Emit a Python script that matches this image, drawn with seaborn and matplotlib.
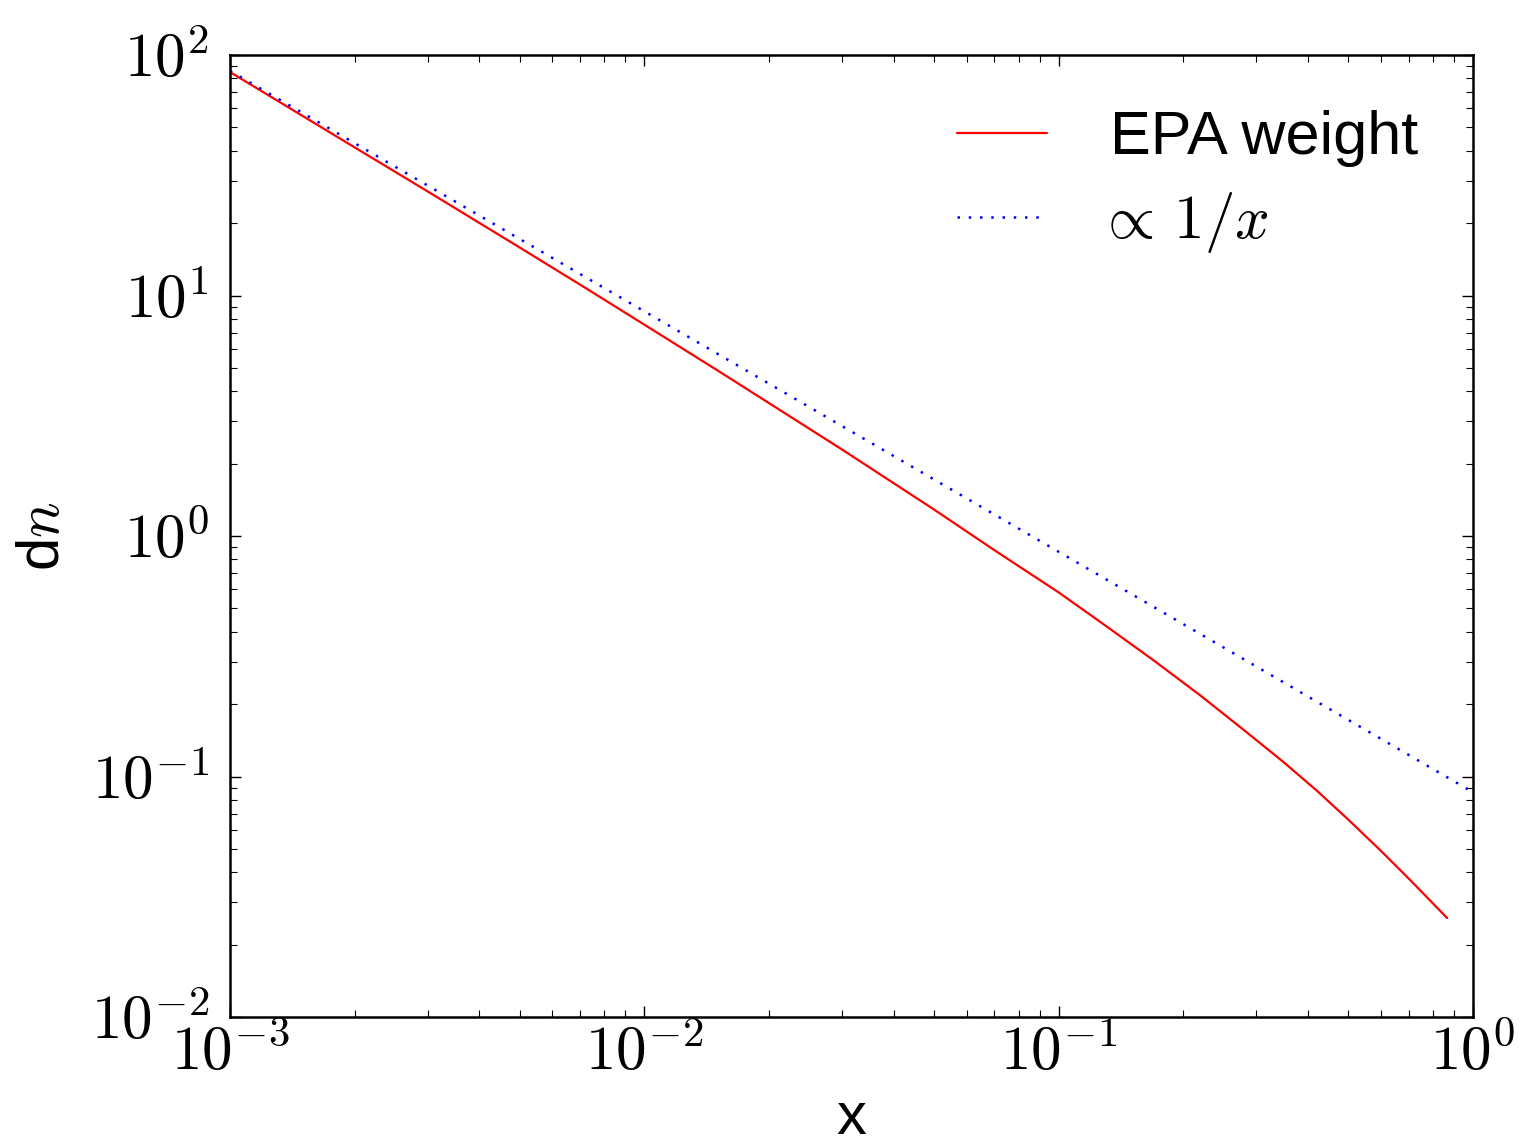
import numpy as np
import pandas as pd
import matplotlib
matplotlib.use("Agg")
import matplotlib.pyplot as plt
from matplotlib.ticker import FuncFormatter, LogLocator
import seaborn as sns

# Photon flux from the equivalent photon approximation
epa_x = [0.001, 0.002, 0.003, 0.005, 0.007, 0.01, 0.015, 0.02, 0.03, 0.05,
         0.07, 0.1, 0.13, 0.17, 0.22, 0.28, 0.35, 0.42, 0.5, 0.6, 0.7, 0.8,
         0.866]
epa_dn = [85.0, 41.3, 27.1, 15.85, 11.1, 7.57, 4.89, 3.57, 2.29, 1.29,
          0.873, 0.583, 0.423, 0.303, 0.217, 0.156, 0.1143, 0.0873, 0.0662,
          0.049, 0.0376, 0.0297, 0.0258]

# Reference 1/x scaling
ref_x = [0.001, 1.0]
ref_dn = [86.0, 0.086]

sns.set_style("ticks")
plt.rcParams["font.family"] = ["Liberation Sans", "DejaVu Sans"]
plt.rcParams["mathtext.fontset"] = "cm"
for key in ("text.color", "axes.labelcolor", "xtick.color", "ytick.color",
            "axes.edgecolor"):
    plt.rcParams[key] = "black"

fig = plt.figure(figsize=(15.29, 11.47), dpi=100)
ax = fig.add_axes([0.1504, 0.1133, 0.8130, 0.8387])

epa = pd.DataFrame({"x": epa_x, "dn": epa_dn})
ref = pd.DataFrame({"x": ref_x, "dn": ref_dn})

sns.lineplot(data=epa, x="x", y="dn", ax=ax, color="red", lw=1.6,
             label="EPA weight")
sns.lineplot(data=ref, x="x", y="dn", ax=ax, color="blue", lw=1.8,
             linestyle=(0, (1, 3.5)), label=r"$\!\!{\propto}\,1/x$")

ax.set_xscale("log")
ax.set_yscale("log")
ax.set_xlim(1e-3, 1)
ax.set_ylim(1e-2, 1e2)

pow_fmt = FuncFormatter(lambda v, pos: r"$10^{%d}$" % int(round(np.log10(v))))
for axis in (ax.xaxis, ax.yaxis):
    axis.set_major_locator(LogLocator(base=10, numticks=10))
    axis.set_minor_locator(LogLocator(base=10, subs=np.arange(2, 10), numticks=100))
    axis.set_major_formatter(pow_fmt)

ax.tick_params(which="both", direction="in", top=True, right=True, colors="black")
ax.tick_params(which="major", length=8, width=1.0, labelsize=44)
ax.tick_params(axis="x", which="major", pad=6)
ax.tick_params(axis="y", which="major", pad=15)
ax.tick_params(which="minor", length=5, width=0.8)
for sp in ax.spines.values():
    sp.set_visible(True)
    sp.set_color("black")
    sp.set_linewidth(1.8)

ax.set_xlabel("x", fontsize=43, labelpad=6)
ax.set_ylabel(r"d$n$", fontsize=43, labelpad=14)

leg = ax.legend(loc="upper right", frameon=False, fontsize=44,
                handlelength=1.47, handletextpad=1.03, labelspacing=0.38,
                borderaxespad=0.5)

fig.savefig("out.png", dpi=100, facecolor="white")
